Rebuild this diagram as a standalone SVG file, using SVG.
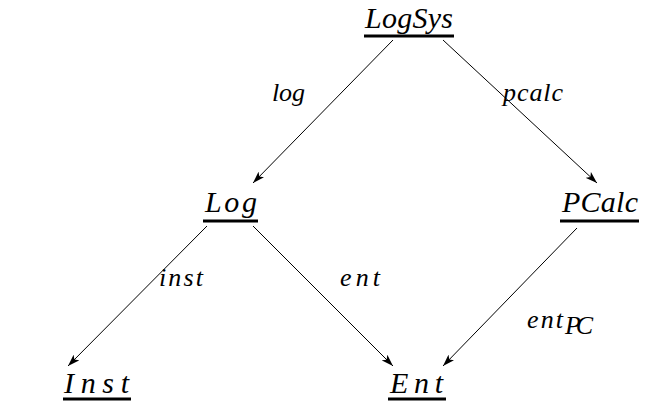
<svg xmlns="http://www.w3.org/2000/svg" width="649" height="408" viewBox="0 0 649 408">
<defs>
<style>
.t{font-family:"Liberation Serif","Times New Roman",serif;font-style:italic;font-size:30px;fill:#000}
.l{font-family:"Liberation Serif","Times New Roman",serif;font-style:italic;font-size:26px;fill:#000}
.u{stroke:#000;stroke-width:3}
.e{stroke:#000;stroke-width:1;fill:none;marker-end:url(#ah)}
</style>
<marker id="ah" viewBox="0 0 12 8" refX="12" refY="4" markerWidth="12" markerHeight="8" markerUnits="userSpaceOnUse" orient="auto">
<path d="M0,0 L12,4 L0,8 L3,4 Z" fill="#000"/>
</marker>
</defs>
<rect width="649" height="408" fill="#fff"/>
<g id="edges">
<line class="e" x1="393" y1="40" x2="253" y2="183"/>
<line class="e" x1="443" y1="40" x2="597" y2="183"/>
<line class="e" x1="207" y1="226" x2="68" y2="366"/>
<line class="e" x1="253" y1="226" x2="393" y2="366"/>
<line class="e" x1="577" y1="228" x2="443" y2="366"/>
<text class="l" x="272" y="101" textLength="33" lengthAdjust="spacing">log</text>
<text class="l" x="503" y="101" textLength="60" lengthAdjust="spacing">pcalc</text>
<text class="l" x="159" y="286" textLength="44" lengthAdjust="spacing">inst</text>
<text class="l" x="340" y="286" textLength="40" lengthAdjust="spacing">ent</text>
<text class="l" x="527" y="328" textLength="36" lengthAdjust="spacing">ent</text>
<text class="l" x="565" y="334" font-size="19" textLength="28" lengthAdjust="spacing">PC</text>
</g>
<g id="LogSys">
<text class="t" x="365" y="28" textLength="88" lengthAdjust="spacing">LogSys</text>
<line class="u" x1="364" y1="36" x2="454" y2="36"/>
</g>
<g id="Log">
<text class="t" x="205" y="212" textLength="52" lengthAdjust="spacing">Log</text>
<line class="u" x1="203" y1="221" x2="258" y2="221"/>
</g>
<g id="PCalc">
<text class="t" x="562" y="212" textLength="76" lengthAdjust="spacing">PCalc</text>
<line class="u" x1="560" y1="221" x2="639" y2="221"/>
</g>
<g id="Inst">
<text class="t" x="64" y="393" textLength="65" lengthAdjust="spacing">Inst</text>
<line class="u" x1="63" y1="399" x2="131" y2="399"/>
</g>
<g id="Ent">
<text class="t" x="390" y="393" textLength="53" lengthAdjust="spacing">Ent</text>
<line class="u" x1="388" y1="399" x2="446" y2="399"/>
</g>
</svg>
